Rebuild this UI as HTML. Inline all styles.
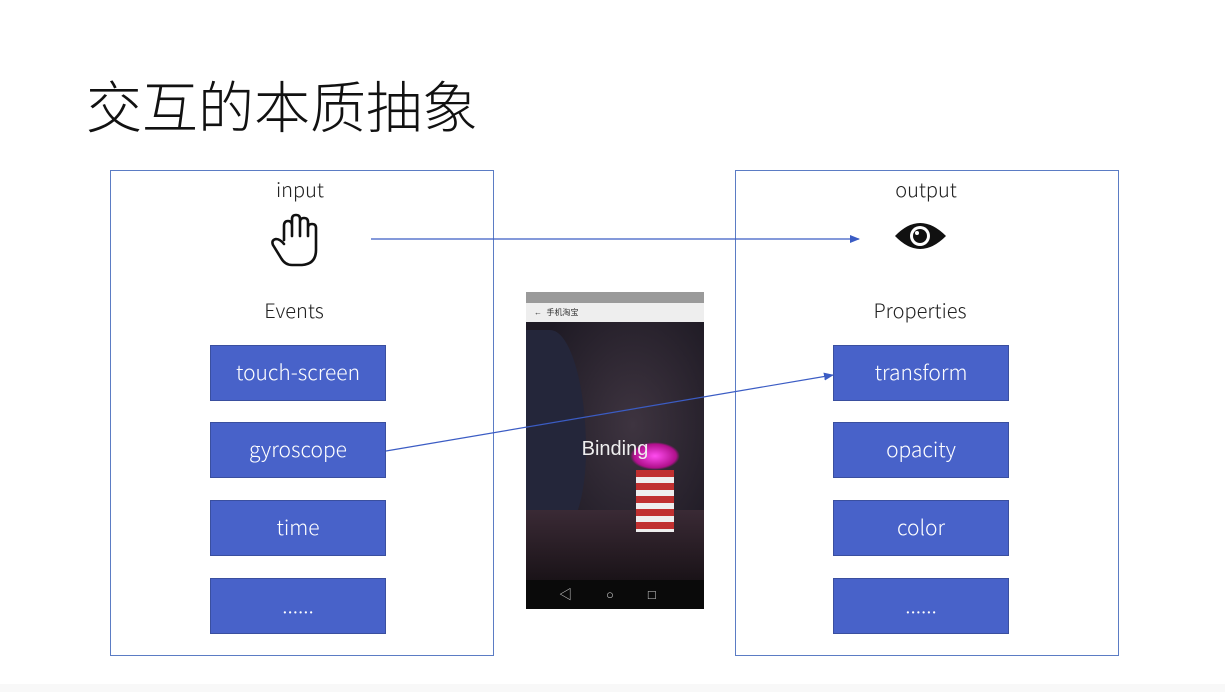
<!DOCTYPE html>
<html><head><meta charset="utf-8"><style>
body{margin:0;width:1225px;height:692px;background:#fff;position:relative;overflow:hidden;font-family:"Liberation Sans","Noto Sans CJK SC",sans-serif}
.a{position:absolute}
.fr{position:absolute;border:1.5px solid #5b7cc4;box-sizing:border-box}
.b{position:absolute;width:176px;height:56px;background:#4862c9;border:1px solid #3a4f9f;box-sizing:border-box;color:#fff;font-size:21px;text-align:center;line-height:52px;font-family:"Noto Sans CJK SC","Liberation Sans",sans-serif;font-weight:300}
.l{position:absolute;font-size:20px;color:#222;text-align:center;font-family:"Noto Sans CJK SC","Liberation Sans",sans-serif;font-weight:300}
</style></head><body>
<div class="a" style="left:86px;top:70px;font-size:56px;line-height:70px;color:#111;font-family:'Noto Sans CJK SC',sans-serif;font-weight:300">交互的本质抽象</div>
<div class="fr" style="left:110px;top:170px;width:384px;height:486px"></div>
<div class="fr" style="left:735px;top:170px;width:384px;height:486px"></div>
<div class="l" style="left:200px;top:174px;width:200px">input</div>
<div class="l" style="left:826px;top:174px;width:200px">output</div>
<div class="l" style="left:194px;top:295px;width:200px">Events</div>
<div class="l" style="left:820px;top:295px;width:200px">Properties</div>
<div class="b" style="left:210px;top:345px">touch-screen</div>
<div class="b" style="left:210px;top:422px">gyroscope</div>
<div class="b" style="left:210px;top:500px">time</div>
<div class="b" style="left:210px;top:578px">......</div>
<div class="b" style="left:833px;top:345px">transform</div>
<div class="b" style="left:833px;top:422px">opacity</div>
<div class="b" style="left:833px;top:500px">color</div>
<div class="b" style="left:833px;top:578px">......</div>
<!-- phone -->
<div class="a" style="left:526px;top:292px;width:178px;height:11px;background:#9a9a9a"></div>
<div class="a" style="left:526px;top:303px;width:178px;height:19px;background:#eee;font-size:8px;line-height:19px;color:#333"><span style="margin-left:8px">←&nbsp;&nbsp;手机淘宝</span></div>
<div class="a" style="left:526px;top:322px;width:178px;height:258px;background:radial-gradient(ellipse at 60% 40%,#3e3440,#1e1a24 70%)"></div>
<div class="a" style="left:526px;top:330px;width:60px;height:200px;border-radius:0 60% 40% 0;background:#24263a"></div>
<div class="a" style="left:526px;top:510px;width:178px;height:70px;background:linear-gradient(#3a2a35,#1a1318)"></div>
<div class="a" style="left:636px;top:470px;width:38px;height:62px;background:repeating-linear-gradient(#c03030 0 7px,#eee 7px 13px)"></div>
<div class="a" style="left:630px;top:442px;width:50px;height:28px;border-radius:50%;background:radial-gradient(#ff4cf0,#b0108c 60%,transparent 70%)"></div>
<div class="a" style="left:526px;top:438px;width:178px;text-align:center;color:#eee;font-size:20px">Binding</div>
<div class="a" style="left:526px;top:580px;width:178px;height:29px;background:#0a0a0a;color:#ccc;font-size:13px;line-height:29px"><span style="margin-left:33px">◁</span><span style="margin-left:34px">○</span><span style="margin-left:34px">□</span></div>
<svg class="a" style="left:0;top:0" width="1225" height="692">
<defs><marker id="m" markerWidth="10" markerHeight="8" refX="9" refY="4" orient="auto" markerUnits="userSpaceOnUse"><path d="M0,0L10,4L0,8z" fill="#3b5cc4"/></marker></defs>
<line x1="371" y1="239" x2="859" y2="239" stroke="#3b5cc4" stroke-width="1.2" marker-end="url(#m)"/>
<line x1="386" y1="451" x2="833" y2="375" stroke="#3b5cc4" stroke-width="1.2" marker-end="url(#m)"/>
<g fill="none" stroke="#111" stroke-width="2.6" stroke-linecap="round" stroke-linejoin="round">
<path d="M284,240 L284,226 Q284,221 288,221 Q292,221 292,226 L292,236 M292,226 L292,219 Q292,215 296,215 Q300,215 300,219 L300,236 M300,222 Q300,218 304,218 Q308,218 308,222 L308,236 M308,228 Q308,224 312,224 Q316,224 316,228 L316,250 Q316,264 302,265 L292,265 Q285,265 281,258 L273,245 Q271,240 276,239 Q280,239 284,244"/>
</g>
<path d="M895,236 Q920,210 946,236 Q920,262 895,236Z" fill="#111"/>
<circle cx="920" cy="236" r="10" fill="#fff"/>
<circle cx="920" cy="236" r="7" fill="#111"/>
<circle cx="917" cy="233" r="2" fill="#fff"/>
</svg>
<div class="a" style="left:0;top:684px;width:1225px;height:8px;background:#f8f8f8"></div>
</body></html>
